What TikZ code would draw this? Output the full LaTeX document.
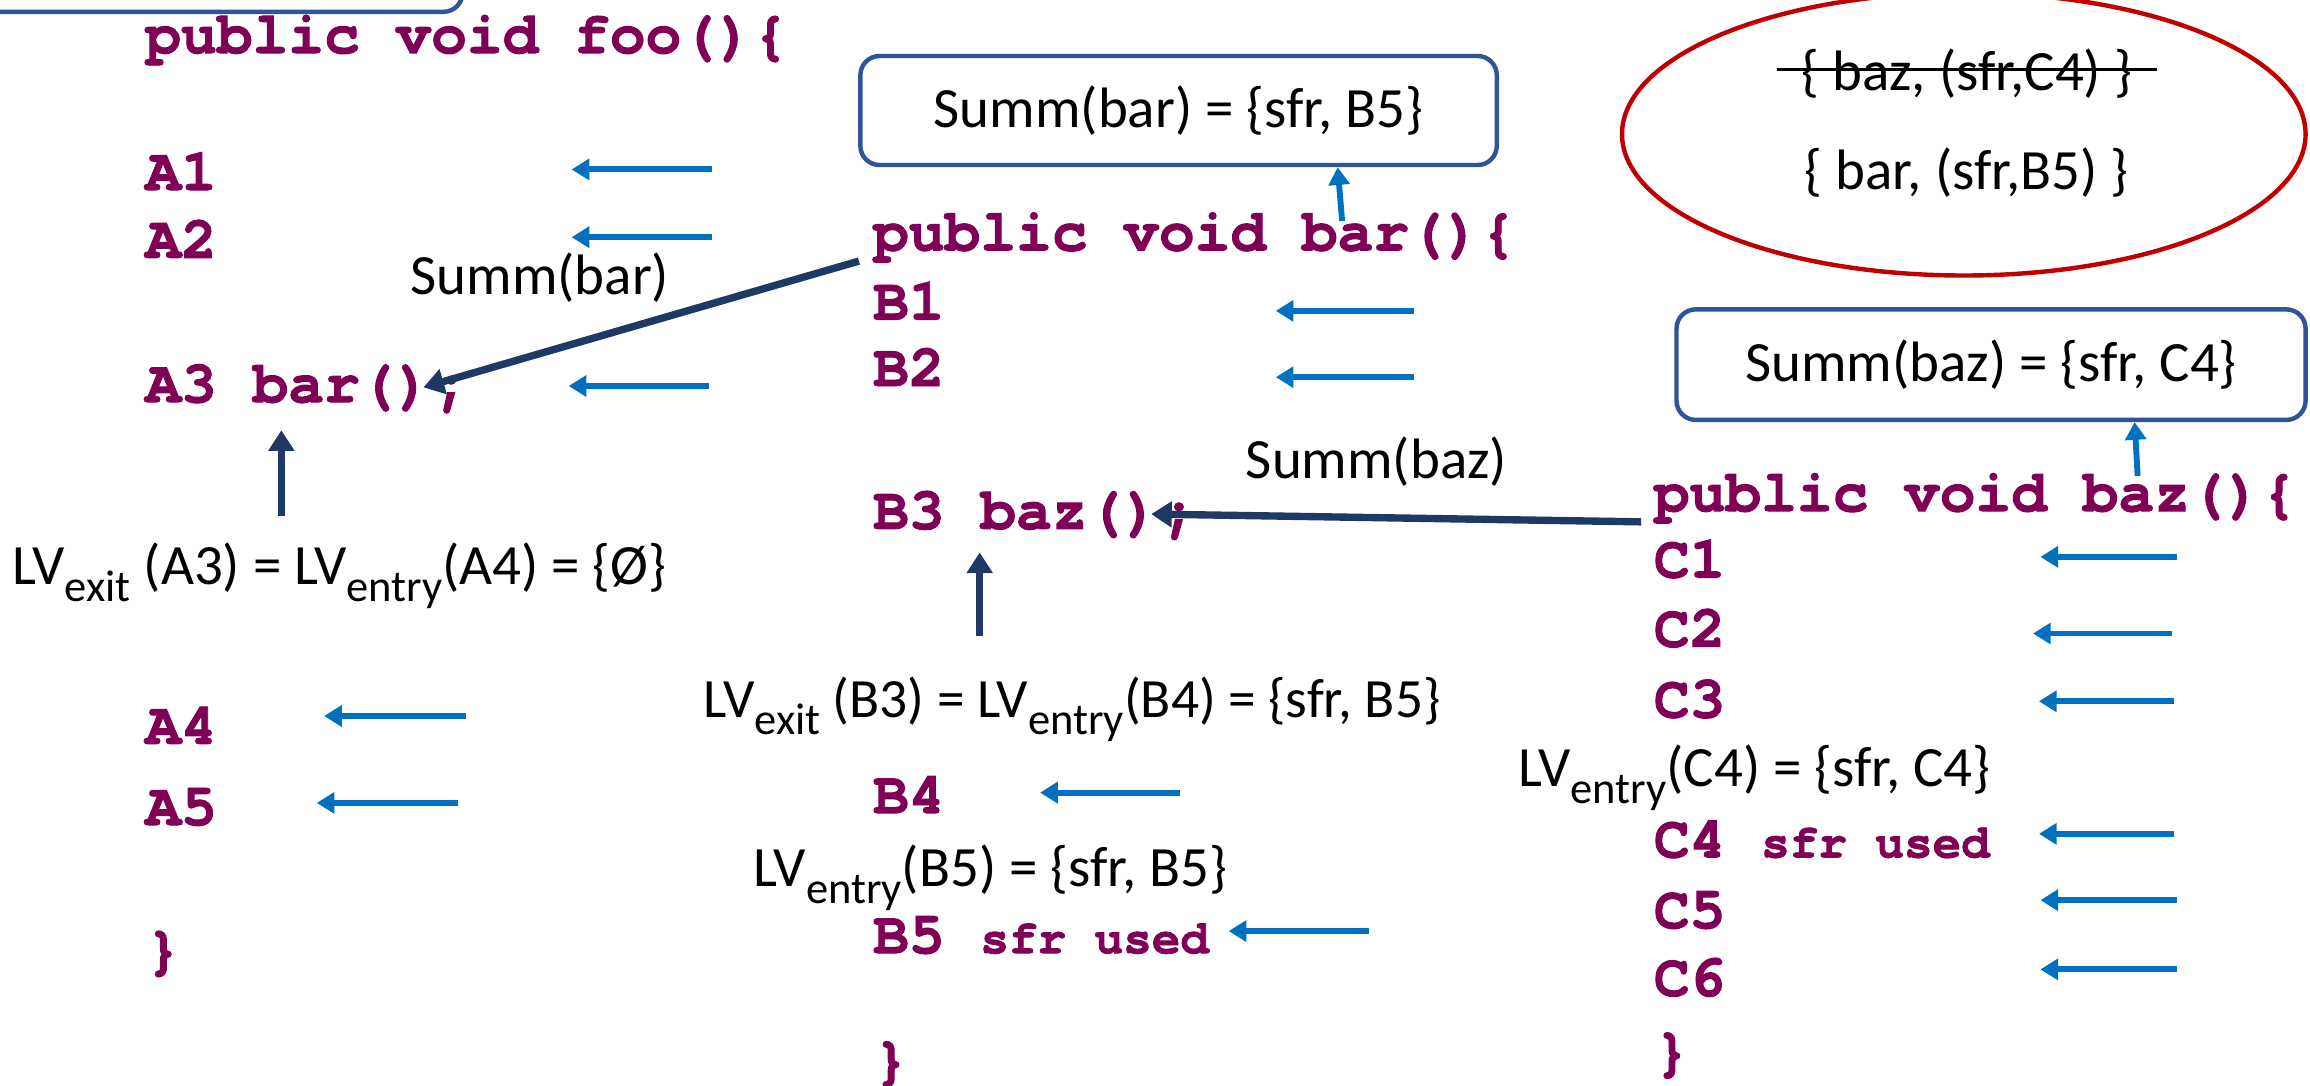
\documentclass[tikz,border=0pt]{standalone}
\usepackage{fontspec}
\setmainfont{Carlito}
\newfontfamily\codefam{texgyrecursor-bold.otf}[RawFeature={embolden=1.6}]
\usetikzlibrary{arrows.meta,calc,shapes.geometric}

\definecolor{kw}{HTML}{7F0055}
\definecolor{flowblue}{HTML}{0070C0}
\definecolor{navy}{HTML}{1F3864}
\definecolor{boxblue}{HTML}{2F5597}
\definecolor{ellred}{HTML}{C00000}

\newcommand\cf{\fontsize{11.5}{13}\codefam\selectfont}
\newcommand\cfs{\fontsize{9.2}{11}\codefam\selectfont}
\newcommand\lf{\fontsize{11}{13}\selectfont}
\newcommand\lvsub[1]{\raisebox{-0.3em}{\fontsize{8.6}{9}\selectfont #1}}

\begin{document}
\begin{tikzpicture}[x=0.1mm,y=-0.1mm,
  code/.style={anchor=base west,inner sep=0pt,text=kw,font=\cf},
  lbl/.style={anchor=base west,inner sep=0pt,font=\lf},
  flow/.style={draw=flowblue,line width=0.4mm,-{Triangle[length=1.2mm,width=1.4mm]}},
  call/.style={draw=navy,line width=0.5mm,-{Triangle[length=1.4mm,width=1.7mm]}},
  summbox/.style={draw=boxblue,line width=0.3mm,rounded corners=1.3mm,fill=white,font=\lf,inner sep=0pt}]
\useasboundingbox (0,0) rectangle (1568,737);

% box running off the top left corner
\draw[boxblue,line width=0.3mm,rounded corners=1.3mm] (-60,-80) rectangle (314,8);

% ---- foo ----
\node[code] (hfoo) at (98,36) {public void foo()\{};
\node[code] (A1) at (98,129) {A1};
\node[code] (A2) at (98,175) {A2};
\node[code] (A3) at (98,273) {A3 bar()};
\node[code] (A3s) at (A3.base east) {;};
\node[lbl] (sumbarlbl) at (278,200) {Summ(bar)};
\node[lbl] (lvA3) at (8,397) {LV\lvsub{exit} (A3) = LV\lvsub{entry}(A4) = \{Ø\}};
\node[code] (A4) at (98,505) {A4};
\node[code] (A5) at (98,560) {A5};
\node[code] (Aend) at (98,657) {\}};

% ---- bar ----
\node[summbox,minimum width=43.2mm,minimum height=7.4mm] (sbar) at (800,75) {Summ(bar) = \{sfr, B5\}};
\node[code] (hbar) at (592,170) {public void bar()\{};
\node[code] (B1) at (592,217) {B1};
\node[code] (B2) at (592,262) {B2};
\node[lbl] (sumbazlbl) at (845,325) {Summ(baz)};
\node[code] (B3) at (592,359) {B3 baz()};
\node[code] (B3s) at (B3.base east) {;};
\node[lbl,font=\fontsize{10.7}{13}\selectfont] (lvB3) at (477,487) {LV\lvsub{exit} (B3) = LV\lvsub{entry}(B4) = \{sfr, B5\}};
\node[code] (B4) at (592,552) {B4};
\node[lbl] (lvB5) at (511,602) {LV\lvsub{entry}(B5) = \{sfr, B5\}};
\node[code] (B5) at (592,647) {B5 {\cfs sfr used}};
\node[code] (Bend) at (592,732) {\}};

% ---- summary set ----
\node[ellipse,draw=ellred,line width=0.3mm,minimum width=46.4mm,minimum height=19.2mm,inner sep=0pt] (sset) at (1333,91) {};
\node[font=\lf,inner sep=0pt] (oldsum) at (1335,50) {\{ baz, (sfr,C4) \}};
\draw[line width=0.2mm] ([xshift=-1.6mm,yshift=0.3mm]oldsum.west) -- ([xshift=1.6mm,yshift=0.3mm]oldsum.east);
\node[font=\lf,inner sep=0pt] (newsum) at (1335,117) {\{ bar, (sfr,B5) \}};

% ---- baz ----
\node[summbox,minimum width=42.7mm,minimum height=7.5mm] (sbaz) at (1351.5,247.5) {Summ(baz) = \{sfr, C4\}};
\node[code] (hbaz) at (1122,347) {public void baz()\{};
\node[code] (C1) at (1122,392) {C1};
\node[code] (C2) at (1122,439) {C2};
\node[code] (C3) at (1122,487) {C3};
\node[lbl] (lvC4) at (1030,534) {LV\lvsub{entry}(C4) = \{sfr, C4\}};
\node[code] (C4) at (1122,582) {C4 {\cfs sfr used}};
\node[code] (C5) at (1122,630) {C5};
\node[code] (C6) at (1122,676) {C6};
\node[code] (Cend) at (1122,726) {\}};

% ---- call edges ----
\draw[call] ([shift={(-9,16)}]hbar.west) -- ([xshift=-0.6mm,yshift=0.5mm]A3s.west);
\draw[call] ([shift={(-8,16)}]hbaz.west) -- ([xshift=-0.6mm,yshift=0.5mm]B3s.west);
\coordinate (upA0) at (191,350);
\coordinate (upA1) at (191,292);
\draw[call] (upA0) -- (upA1);
\coordinate (upB0) at (665,432);
\coordinate (upB1) at (665,375);
\draw[call] (upB0) -- (upB1);

% ---- summary arrows ----
\coordinate (sbarfrom) at (911,150);
\draw[flow] (sbarfrom) -- ([xshift=10.8mm]sbar.south);
\coordinate (sbazfrom) at (1451,323);
\draw[flow] (sbazfrom) -- ([xshift=9.75mm]sbaz.south);

% ---- backward flow arrows ----
\foreach \n/\xs/\xe/\y in {A1/483/388/115, A2/483/388/161, A3/481/386/262,
    A4/316/220/486, A5/311/215/545,
    B1/960/866/211, B2/960/866/256, B4/801/706/538, B5/929/834/632,
    C1/1478/1385/378, C2/1474/1380/430, C3/1476/1384/476,
    C4/1476/1384/566, C5/1478/1385/611, C6/1478/1385/658}{
  \coordinate (f\n s) at (\xs,\y);
  \coordinate (f\n e) at (\xe,\y);
  \draw[flow] (f\n s) -- (f\n e);
}
\end{tikzpicture}
\end{document}
